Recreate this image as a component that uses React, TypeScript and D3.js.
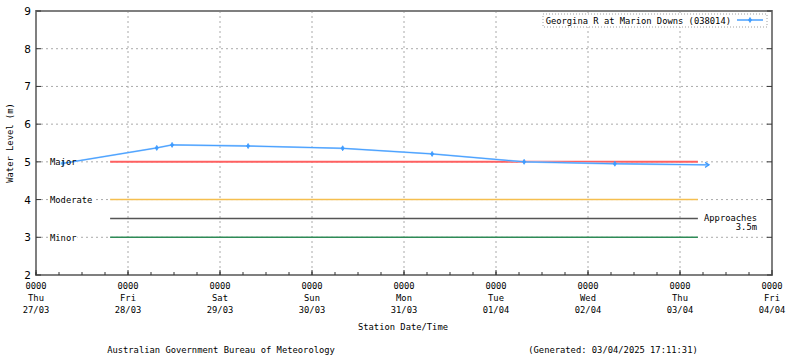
import React from "react";
import * as d3 from "d3";

const obsTimes = [
  "2025-03-27T07:00:00Z",
  "2025-03-28T07:30:00Z",
  "2025-03-28T11:30:00Z",
  "2025-03-29T07:20:00Z",
  "2025-03-30T08:00:00Z",
  "2025-03-31T07:20:00Z",
  "2025-04-01T07:20:00Z",
  "2025-04-02T07:00:00Z",
  "2025-04-03T07:35:00Z",
];
const obsLevels = [4.96, 5.37, 5.45, 5.42, 5.36, 5.21, 5.0, 4.95, 4.92];

const classNames = ["Major", "Moderate", "Minor"];
const classLevels = [5, 4, 3];
const classColors = ["#ff6060", "#f5bf4f", "#2e8b57"];
const approachLevel = 3.5;
const thresholdStart = "2025-03-27T19:20:00Z";
const thresholdEnd = "2025-04-03T04:40:00Z";

const dayLabels = ["Thu", "Fri", "Sat", "Sun", "Mon", "Tue", "Wed", "Thu", "Fri"];
const dateLabels = ["27/03", "28/03", "29/03", "30/03", "31/03", "01/04", "02/04", "03/04", "04/04"];
const yTicks = [2, 3, 4, 5, 6, 7, 8, 9];

const seriesName = "Georgina R at Marion Downs (038014)";

const W = 800, H = 358;
const L = 36, R = 772, T = 11, B = 275;
const mono = "'DejaVu Sans Mono', 'Liberation Mono', monospace";
const sans = "'DejaVu Sans', Arial, sans-serif";
const FS = 8.8;

export default function App() {
  const t0 = new Date("2025-03-27T00:00:00Z");
  const t1 = new Date("2025-04-04T00:00:00Z");
  const x = d3.scaleUtc().domain([t0, t1]).range([L, R]);
  const y = d3.scaleLinear().domain([2, 9]).range([B, T]);
  const days = d3.utcDay.range(t0, d3.utcDay.offset(t1, 1));
  const sixHours = d3.utcHour.every(6)!.range(t0, t1);
  const pts = obsTimes.map((t, i) => ({ t: new Date(t), v: obsLevels[i] }));
  const line = d3.line<{ t: Date; v: number }>().x(d => x(d.t)).y(d => y(d.v));
  const blue = "#3d9bff";
  const ts = x(new Date(thresholdStart));
  const te = x(new Date(thresholdEnd));
  const last = pts[pts.length - 1];
  const lx = x(last.t), ly = y(last.v);

  const marker = (cx: number, cy: number, k: string) => (
    <path key={k} d={`M${cx},${cy - 2.5}L${cx + 1.5},${cy}L${cx},${cy + 2.5}L${cx - 1.5},${cy}Z`} fill={blue} stroke={blue} strokeWidth={0.8} />
  );

  return (
    <svg width={W} height={H} style={{ position: "absolute", left: 0, top: 0, background: "#fff" }}>
      {/* grid */}
      {days.slice(1, -1).map((d, i) => (
        <line key={"vg" + i} x1={x(d)} x2={x(d)} y1={T} y2={B} stroke="#aaaaaa" strokeDasharray="2,3" strokeWidth={1} />
      ))}
      {yTicks.slice(1, -1).map(v => (
        <line key={"hg" + v} x1={L} x2={R} y1={y(v)} y2={y(v)} stroke="#aaaaaa" strokeDasharray="2,3" strokeWidth={1} />
      ))}
      {/* thresholds */}
      {classLevels.map((v, i) => (
        <line key={"th" + i} x1={ts} x2={te} y1={y(v)} y2={y(v)} stroke={classColors[i]} strokeWidth={i === 0 ? 2 : 1.5} />
      ))}
      <line x1={ts} x2={te} y1={y(approachLevel)} y2={y(approachLevel)} stroke="#555" strokeWidth={1.5} />
      {classNames.map((n, i) => (
        <rect key={"cb" + i} x={49} y={y(classLevels[i]) - 5} width={n.length * 5.3 + 2} height={10} fill="#fff" />
      ))}
      <text x={757} y={y(approachLevel) + 3} fontFamily={mono} fontSize={FS} textAnchor="end">Approaches</text>
      <text x={757} y={y(approachLevel) + 12} fontFamily={mono} fontSize={FS} textAnchor="end">3.5m</text>
      {/* series */}
      <path d={line(pts) || ""} fill="none" stroke="#9ccbff" strokeWidth={1.8} />
      <path d={line(pts) || ""} fill="none" stroke={blue} strokeWidth={0.9} />
      {pts.slice(0, -1).map((p, i) => marker(x(p.t), y(p.v), "m" + i))}
      <path d={`M${lx - 4},${ly - 2.5}L${lx},${ly}L${lx - 4},${ly + 2.5}`} fill="none" stroke={blue} strokeWidth={1.2} />
      {classNames.map((n, i) => (
        <text key={"cl" + i} x={50} y={y(classLevels[i]) + 3.5} fontFamily={mono} fontSize={FS} fill="#000">{n}</text>
      ))}
      {/* frame */}
      <rect x={L} y={T} width={R - L} height={B - T} fill="none" stroke="#7f7f7f" strokeWidth={2} />
      {/* y ticks */}
      {yTicks.map(v => (
        <g key={"yt" + v}>
          <line x1={L} x2={L + 5} y1={y(v)} y2={y(v)} stroke="#333" />
          <line x1={R - 5} x2={R} y1={y(v)} y2={y(v)} stroke="#333" />
          <text x={31} y={y(v) + 4} fontFamily={sans} fontSize={10.5} textAnchor="end" fill="#000">{v}</text>
        </g>
      ))}
      {/* x ticks */}
      {sixHours.map((d, i) => (
        <line key={"xm" + i} x1={x(d)} x2={x(d)} y1={B} y2={B - 3} stroke="#333" />
      ))}
      {days.map((d, i) => (
        <g key={"xd" + i}>
          <line x1={x(d)} x2={x(d)} y1={B} y2={B - 5} stroke="#333" />
          <text x={x(d)} y={289} fontFamily={mono} fontSize={FS} textAnchor="middle">0000</text>
          <text x={x(d)} y={301} fontFamily={mono} fontSize={FS} textAnchor="middle">{dayLabels[i]}</text>
          <text x={x(d)} y={313} fontFamily={mono} fontSize={FS} textAnchor="middle">{dateLabels[i]}</text>
        </g>
      ))}
      {/* axis titles */}
      <text x={403} y={330} fontFamily={mono} fontSize={FS} textAnchor="middle">Station Date/Time</text>
      <text transform={`translate(13,${(T + B) / 2}) rotate(-90)`} fontFamily={mono} fontSize={FS} textAnchor="middle">Water Level (m)</text>
      {/* legend */}
      <rect x={543} y={14} width={224} height={13} fill="#fff" stroke="#a0a0a0" strokeDasharray="1,2" />
      <text x={731} y={23.5} fontFamily={mono} fontSize={FS} textAnchor="end">{seriesName}</text>
      <line x1={737} x2={763} y1={20} y2={20} stroke="#9ccbff" strokeWidth={1.8} />
      <line x1={737} x2={763} y1={20} y2={20} stroke={blue} strokeWidth={0.9} />
      {marker(750, 20, "lg")}
      {/* footer */}
      <text x={221} y={353} fontFamily={mono} fontSize={FS} textAnchor="middle">Australian Government Bureau of Meteorology</text>
      <text x={613} y={353} fontFamily={mono} fontSize={FS} textAnchor="middle">(Generated: 03/04/2025 17:11:31)</text>
    </svg>
  );
}
